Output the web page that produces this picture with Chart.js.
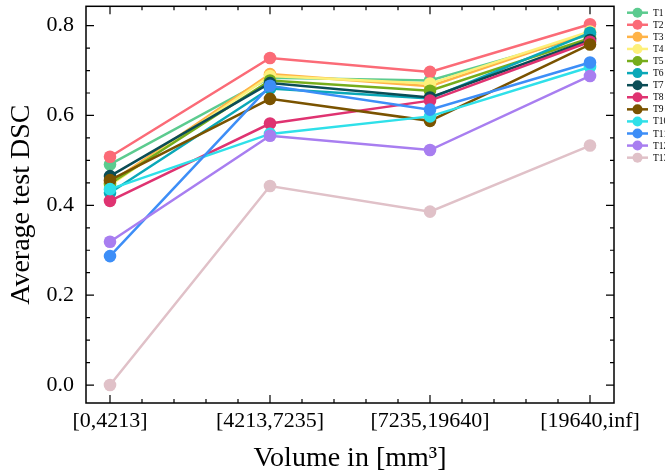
<!DOCTYPE html>
<html>
<head>
<meta charset="utf-8">
<script src="https://cdn.jsdelivr.net/npm/chart.js@4.4.0/dist/chart.umd.min.js"></script>
<style>
    body { margin: 0; background: #ffffff; }
</style>
</head>
<body>
<canvas id="grafico" width="665" height="476"></canvas>
<script>
// Dados
const categorias = ['[0,4213]', '[4213,7235]', '[7235,19640]', '[19640,inf]'];
const nomes = ['T1', 'T2', 'T3', 'T4', 'T5', 'T6', 'T7', 'T8', 'T9', 'T10', 'T11', 'T12', 'T13'];
const cores = [
    '#5ccb8f', '#fb6b77', '#ffb347', '#fdf07a', '#76ad1b', '#0aa8b8', '#0b4d56',
    '#df3371', '#7a5300', '#2fe0e9', '#3d8ef7', '#a87ef0', '#e0c1c8'
];
const T1  = [0.491, 0.684, 0.678, 0.780];
const T2  = [0.508, 0.728, 0.697, 0.803];
const T3  = [0.450, 0.692, 0.665, 0.785];
const T4  = [0.445, 0.688, 0.671, 0.787];
const T5  = [0.448, 0.678, 0.655, 0.772];
const T6  = [0.428, 0.660, 0.638, 0.784];
const T7  = [0.465, 0.672, 0.640, 0.768];
const T8  = [0.410, 0.582, 0.633, 0.764];
const T9  = [0.456, 0.637, 0.588, 0.758];
const T10 = [0.436, 0.559, 0.598, 0.708];
const T11 = [0.287, 0.666, 0.613, 0.718];
const T12 = [0.319, 0.555, 0.523, 0.688];
const T13 = [0.000, 0.443, 0.386, 0.533];
const series = [T1, T2, T3, T4, T5, T6, T7, T8, T9, T10, T11, T12, T13];

const fonte = 'Liberation Serif';

// Moldura e ticks para dentro (estilo matplotlib)
const molduraPlugin = {
    id: 'moldura',
    afterDraw(chart) {
        const { ctx, chartArea: a, scales } = chart;
        const x = scales.x, y = scales.y;
        ctx.save();
        ctx.strokeStyle = '#000';
        ctx.lineWidth = 1.5;
        ctx.strokeRect(a.left, a.top, a.right - a.left, a.bottom - a.top);
        ctx.lineWidth = 1.2;
        ctx.beginPath();
        // ticks do eixo x
        for (let k = 0; k <= 15; k++) {
            const v = k * 0.2;
            const px = x.getPixelForValue(v);
            const len = (k % 5 === 0) ? 8 : 4;
            ctx.moveTo(px, a.bottom); ctx.lineTo(px, a.bottom - len);
            ctx.moveTo(px, a.top); ctx.lineTo(px, a.top + len);
        }
        // ticks do eixo y
        for (let k = 0; k <= 16; k++) {
            const v = k * 0.05;
            const py = y.getPixelForValue(v);
            const len = (k % 4 === 0) ? 8 : 4;
            ctx.moveTo(a.left, py); ctx.lineTo(a.left + len, py);
            ctx.moveTo(a.right, py); ctx.lineTo(a.right - len, py);
        }
        ctx.stroke();
        ctx.restore();
    }
};

// Legenda desenhada à direita
const legendaPlugin = {
    id: 'legendaLateral',
    afterDraw(chart) {
        const ctx = chart.ctx;
        ctx.save();
        chart.data.datasets.forEach((ds, i) => {
            const cy = 12.7 + i * 12.08;
            ctx.strokeStyle = ds.borderColor;
            ctx.lineWidth = 2.5;
            ctx.beginPath();
            ctx.moveTo(627, cy); ctx.lineTo(648, cy);
            ctx.stroke();
            ctx.fillStyle = ds.borderColor;
            ctx.beginPath();
            ctx.arc(637.5, cy, 5, 0, Math.PI * 2);
            ctx.fill();
            ctx.fillStyle = '#000';
            ctx.font = '9.5px "' + fonte + '"';
            ctx.textBaseline = 'middle';
            ctx.fillText(ds.label, 653, cy + 0.5);
        });
        ctx.restore();
    }
};

function criarGrafico() {
    const ctx = document.getElementById('grafico');

    const datasets = series.map((valores, i) => ({
        label: nomes[i],
        data: valores.map((v, j) => ({ x: j, y: v })),
        borderColor: cores[i],
        backgroundColor: cores[i],
        borderWidth: 2.5,
        pointRadius: 6.3,
        pointBorderWidth: 0,
        pointHoverRadius: 6.3,
        tension: 0,
        order: series.length - i,
    }));

    new Chart(ctx, {
        type: 'line',
        data: { datasets: datasets },
        options: {
            responsive: false,
            animation: false,
            devicePixelRatio: 1,
            layout: { padding: { top: 5, right: 51, left: 0, bottom: 0 } },
            scales: {
                x: {
                    type: 'linear',
                    min: -0.15,
                    max: 3.15,
                    grid: { display: false, drawTicks: false },
                    border: { display: false },
                    ticks: {
                        stepSize: 1,
                        includeBounds: false,
                        padding: 5,
                        color: '#000',
                        font: { family: fonte, size: 22 },
                        maxRotation: 0,
                        autoSkip: false,
                        callback: (v) => categorias[v] !== undefined ? categorias[v] : ''
                    },
                    title: {
                        display: true,
                        text: 'Volume in [mm³]',
                        color: '#000',
                        font: { family: fonte, size: 28 },
                        padding: { top: 0, bottom: 1 }
                    },
                    afterFit(scale) {
                        scale.height = 73;
                        scale.paddingLeft = 0;
                        scale.paddingRight = 0;
                    }
                },
                y: {
                    min: -0.04,
                    max: 0.843,
                    grid: { display: false, drawTicks: false },
                    border: { display: false },
                    ticks: {
                        stepSize: 0.2,
                        includeBounds: false,
                        padding: 12,
                        color: '#000',
                        font: { family: fonte, size: 22 },
                        callback: (v) => v.toFixed(1)
                    },
                    title: {
                        display: true,
                        text: 'Average test DSC',
                        color: '#000',
                        font: { family: fonte, size: 28 },
                        padding: { top: 5, bottom: 0 }
                    },
                    afterFit(scale) {
                        scale.width = 86;
                        scale.paddingTop = 0;
                        scale.paddingBottom = 0;
                    }
                }
            },
            plugins: {
                legend: { display: false },
                tooltip: { enabled: false }
            }
        },
        plugins: [molduraPlugin, legendaPlugin]
    });
}

document.addEventListener('DOMContentLoaded', criarGrafico);
</script>
</body>
</html>
